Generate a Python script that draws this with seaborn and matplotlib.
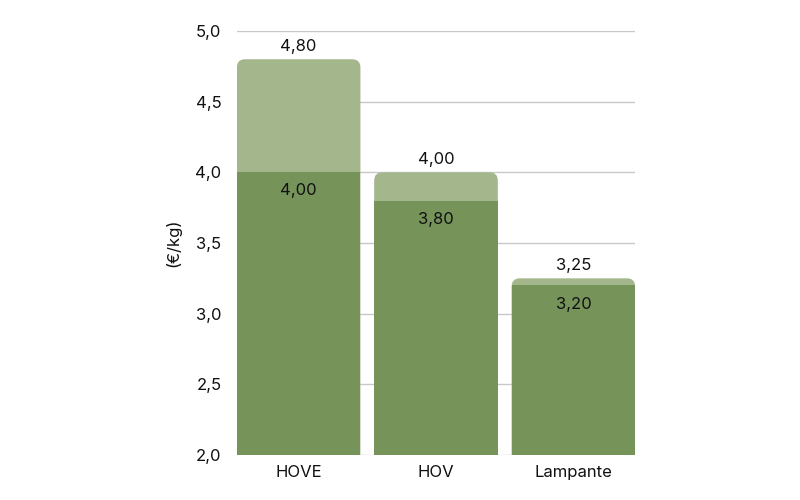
import matplotlib
matplotlib.use("Agg")
import matplotlib.pyplot as plt
import pandas as pd
import seaborn as sns
from matplotlib.patches import FancyBboxPatch

# Olive oil price ranges (€/kg)
categories = ["HOVE", "HOV", "Lampante"]
price_max = [4.80, 4.00, 3.25]
price_min = [4.00, 3.80, 3.20]

LIGHT = "#a3b68c"
DARK = "#76935a"


def fmt(v, nd=2):
    return f"{v:.{nd}f}".replace(".", ",")


df = pd.DataFrame({"cat": categories, "max": price_max, "min": price_min})

sns.set_theme(style="white")
plt.rcParams["font.family"] = ["Inter", "DejaVu Sans"]

fig = plt.figure(figsize=(8, 5), dpi=100)
ax = fig.add_axes([0.296, 0.09, 0.498, 0.848])

sns.barplot(data=df, x="cat", y="max", color=LIGHT, width=0.9, saturation=1, ax=ax)
light_bars = list(ax.patches)
sns.barplot(data=df, x="cat", y="min", color=DARK, width=0.9, saturation=1, ax=ax)
dark_bars = ax.patches[len(light_bars):]

# swap the light bars for ones with rounded tops
for bar in light_bars:
    x, w, h = bar.get_x(), bar.get_width(), bar.get_height()
    bar.remove()
    rb = FancyBboxPatch((x, 0), w, h,
                        boxstyle="round,pad=0,rounding_size=0.06",
                        mutation_aspect=1.0, facecolor=LIGHT, edgecolor="none",
                        zorder=1.5)
    ax.add_patch(rb)
for bar in dark_bars:
    bar.set_zorder(2)
    bar.set_edgecolor("none")

for i, (hi, lo) in enumerate(zip(price_max, price_min)):
    ax.annotate(fmt(hi), (i, hi), xytext=(0, 4), textcoords="offset points",
                ha="center", va="bottom", fontsize=12, color="#111111")
    ax.annotate(fmt(lo), (i, lo), xytext=(0, -8), textcoords="offset points",
                ha="center", va="top", fontsize=12, color="#111111", zorder=3)

ax.set_ylim(2.0, 5.0)
ax.set_xlim(-0.45, 2.45)
ax.set_yticks([2.0, 2.5, 3.0, 3.5, 4.0, 4.5, 5.0])
ax.set_yticklabels([fmt(t, 1) for t in ax.get_yticks()])
ax.yaxis.grid(True, color="#c8c8c8", linewidth=1)
ax.set_axisbelow(True)
ax.tick_params(axis="both", length=0, labelsize=12, colors="#111111")
ax.tick_params(axis="y", pad=11)
ax.tick_params(axis="x", pad=7)
ax.set_xlabel("")
ax.set_ylabel("(€/kg)", fontsize=12, color="#111111", labelpad=10)
sns.despine(ax=ax, left=True, bottom=True)

fig.savefig("out.png", dpi=100)
